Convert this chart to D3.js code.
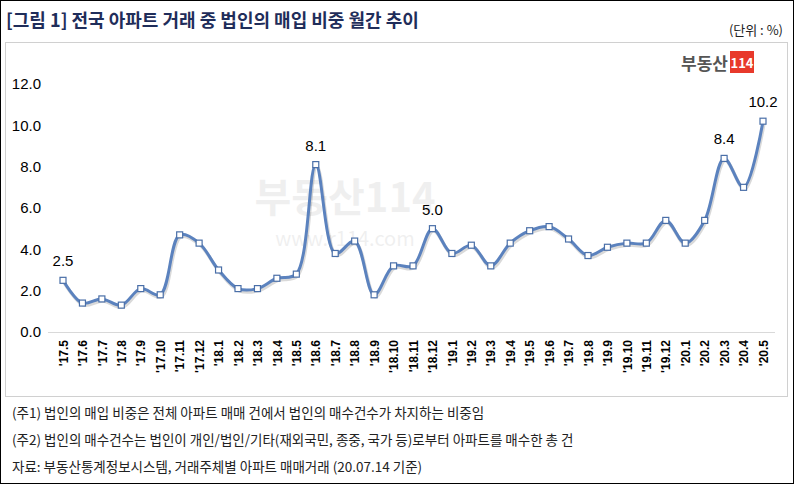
<!DOCTYPE html>
<html><head><meta charset="utf-8">
<script src="https://cdn.jsdelivr.net/npm/d3@7"></script>
<style>
body{margin:0;background:#fff;font-family:"Noto Sans CJK KR","Noto Sans",sans-serif;}
</style></head>
<body><svg id="c" width="794" height="484"></svg>
<script>
const months = ["'17.5","'17.6","'17.7","'17.8","'17.9","'17.10","'17.11","'17.12",
  "'18.1","'18.2","'18.3","'18.4","'18.5","'18.6","'18.7","'18.8","'18.9","'18.10","'18.11","'18.12",
  "'19.1","'19.2","'19.3","'19.4","'19.5","'19.6","'19.7","'19.8","'19.9","'19.10","'19.11","'19.12",
  "'20.1","'20.2","'20.3","'20.4","'20.5"];
const shares = [2.5,1.4,1.6,1.3,2.1,1.8,4.7,4.3,
  3.0,2.1,2.1,2.6,2.8,8.1,3.8,4.4,1.8,3.2,3.2,5.0,
  3.8,4.2,3.2,4.3,4.9,5.1,4.5,3.7,4.1,4.3,4.3,5.4,
  4.3,5.4,8.4,7.0,10.2];
const labelled = ["'17.5","'18.6","'18.12","'20.3","'20.5"];
const yTicks = [0,2,4,6,8,10,12];
const notes = ["(주1) 법인의 매입 비중은 전체 아파트 매매 건에서 법인의 매수건수가 차지하는 비중임",
  "(주2) 법인의 매수건수는 법인이 개인/법인/기타(재외국민, 종중, 국가 등)로부터 아파트를 매수한 총 건",
  "자료: 부동산통계정보시스템, 거래주체별 아파트 매매거래 (20.07.14 기준)"];

const svg = d3.select('#c');
svg.append('rect').attr('x',0.5).attr('y',0.5).attr('width',793).attr('height',483)
  .attr('fill','none').attr('stroke','#000');
svg.append('text').attr('x',6).attr('y',27).text('[그림 1] 전국 아파트 거래 중 법인의 매입 비중 월간 추이')
  .attr('font-size',18).attr('font-weight','bold').attr('fill','#1f2d5a');
svg.append('text').attr('x',783).attr('y',35).attr('text-anchor','end').text('(단위 : %)')
  .attr('font-size',13).attr('fill','#222');
svg.append('rect').attr('x',5.5).attr('y',42.5).attr('width',782).attr('height',354)
  .attr('fill','none').attr('stroke','#d0d0d0');

// logo
svg.append('text').attr('x',728).attr('y',70).attr('text-anchor','end').text('부동산')
  .attr('font-size',17).attr('font-weight','bold').attr('fill','#555');
svg.append('rect').attr('x',730).attr('y',51).attr('width',24).attr('height',22).attr('fill','#e8392b');
svg.append('text').attr('x',742).attr('y',68).attr('text-anchor','middle').text('114')
  .attr('font-size',13).attr('font-weight','bold').attr('fill','#fff');
// watermark
svg.append('text').attr('x',345).attr('y',212).attr('text-anchor','middle').text('부동산114')
  .attr('font-size',40).attr('font-weight','bold').attr('fill','#000').attr('opacity',0.06);
svg.append('text').attr('x',345).attr('y',246).attr('text-anchor','middle').text('www.r114.com')
  .attr('font-size',20).attr('fill','#000').attr('opacity',0.06);

const x = d3.scalePoint().domain(months).range([63,763]);
const y = d3.scaleLinear().domain([0,12]).range([332,84]);

const ya = svg.append('g').attr('transform','translate(44,0)')
  .call(d3.axisLeft(y).tickValues(yTicks).tickFormat(d3.format('.1f')).tickSize(0));
ya.select('.domain').remove();
ya.selectAll('text').attr('font-size',15).attr('font-family','"Liberation Sans Narrow","Liberation Sans",sans-serif').attr('fill','#000');

svg.append('line').attr('x1',48).attr('x2',775).attr('y1',332.5).attr('y2',332.5).attr('stroke','#d9d9d9');

const xa = svg.append('g').attr('transform','translate(0,338)')
  .call(d3.axisBottom(x).tickSize(0));
xa.select('.domain').remove();
xa.selectAll('text').attr('transform','rotate(-90)').attr('text-anchor','end')
  .attr('x',-2).attr('y',0).attr('dy','0.35em').attr('font-size',12).attr('font-weight','bold')
  .attr('font-family','"Liberation Sans",sans-serif').attr('fill','#000');

const line = d3.line().x((d,i)=>x(months[i])).y(d=>y(d)).curve(d3.curveCatmullRom.alpha(0.5));
svg.append('path').datum(shares).attr('d',line).attr('fill','none')
  .attr('stroke','#000').attr('stroke-opacity',0.15).attr('stroke-width',3.5)
  .attr('transform','translate(1,2)');
svg.append('path').datum(shares).attr('d',line).attr('fill','none')
  .attr('stroke','#5b82be').attr('stroke-width',3);
svg.selectAll('rect.pt').data(shares).join('rect').attr('class','pt')
  .attr('x',(d,i)=>x(months[i])-3).attr('y',d=>y(d)-3).attr('width',6).attr('height',6)
  .attr('fill','#fff').attr('stroke','#4a6fa8').attr('stroke-width',1.2);
svg.selectAll('text.lb').data(shares.map((v,i)=>({m:months[i],v})).filter(d=>labelled.includes(d.m)))
  .join('text').attr('class','lb').attr('x',d=>x(d.m)).attr('y',d=>y(d.v)-14)
  .attr('text-anchor','middle').text(d=>d.v.toFixed(1))
  .attr('font-size',15).attr('font-family','"Liberation Sans",sans-serif').attr('fill','#000');

svg.selectAll('text.note').data(notes).join('text').attr('class','note')
  .attr('x',12).attr('y',(d,i)=>418+i*27).text(d=>d).attr('font-size',13.5).attr('fill','#222');
</script></body></html>
